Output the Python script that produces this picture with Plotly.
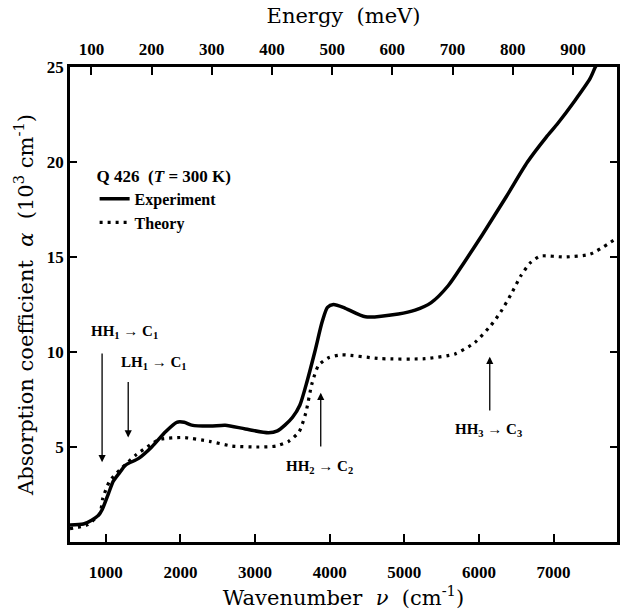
import plotly.graph_objects as go

# ---- data ----
exp_nu = [520, 700, 810, 900, 950, 1040, 1100, 1175, 1265, 1440, 1615, 1800, 1950, 2050,
          2150, 2400, 2600, 2870, 3180, 3300, 3400, 3500, 3600, 3700, 3800, 3900, 3970,
          4050, 4210, 4480, 4920, 5145, 5360, 5590, 5800, 6050, 6370, 6650, 6900, 7050,
          7280, 7490, 7560, 7620]
exp_alpha = [0.9, 0.95, 1.15, 1.4, 1.7, 2.6, 3.2, 3.6, 4.05, 4.4, 5.0, 5.8, 6.3, 6.3,
             6.15, 6.1, 6.15, 5.95, 5.75, 5.85, 6.15, 6.55, 7.2, 8.5, 10.0, 11.6, 12.35,
             12.5, 12.3, 11.85, 12.0, 12.2, 12.6, 13.5, 14.7, 16.2, 18.2, 20.0, 21.3, 22.0,
             23.2, 24.4, 25.0, 25.4]

th_nu = [520, 750, 920, 960, 1050, 1190, 1410, 1590, 1720, 2030, 2390, 2690, 3050, 3280,
         3450, 3590, 3680, 3760, 3850, 3985, 4160, 4690, 5280, 5680, 5945, 6160, 6290,
         6425, 6560, 6690, 6825, 7145, 7490, 7850]
th_alpha = [0.7, 0.9, 1.5, 2.3, 3.2, 3.8, 4.6, 5.1, 5.4, 5.5, 5.3, 5.05, 5.0, 5.05,
            5.3, 5.8, 6.8, 8.3, 9.3, 9.7, 9.85, 9.65, 9.65, 9.9, 10.5, 11.4, 12.1,
            13.0, 14.0, 14.7, 15.05, 15.0, 15.15, 16.0]

x_ticks = [1000, 2000, 3000, 4000, 5000, 6000, 7000]
y_ticks = [5, 10, 15, 20, 25]
energy_ticks = [100, 200, 300, 400, 500, 600, 700, 800, 900]
CM_PER_MEV = 8.0655
x_range = [520, 7850]

# transitions: label, arrow x (cm^-1), arrow tail y, arrow head y, text x, text y
trans_labels = ["HH<sub>1</sub> → C<sub>1</sub>", "LH<sub>1</sub> → C<sub>1</sub>",
                "HH<sub>2</sub> → C<sub>2</sub>", "HH<sub>3</sub> → C<sub>3</sub>"]
trans_x = [950, 1300, 3880, 6145]
trans_tail = [10.0, 8.5, 4.95, 6.84]
trans_head = [4.2, 5.5, 7.85, 9.75]
text_x = [1250, 1640, 3866, 6132]
text_y = [11.05, 9.4, 3.95, 5.9]

SERIF = "Liberation Serif"
TITLE_FONT = "DejaVu Serif"

fig = go.Figure()
fig.add_trace(go.Scatter(x=exp_nu, y=exp_alpha, mode="lines", name="Experiment",
                         line=dict(color="black", width=3.5, shape="spline", smoothing=0.7)))
fig.add_trace(go.Scatter(x=th_nu, y=th_alpha, mode="lines", name="Theory",
                         line=dict(color="black", width=3.2, dash="3px,5px",
                                   shape="spline", smoothing=0.6)))
# invisible trace to carry the top energy axis
fig.add_trace(go.Scatter(x=[energy_ticks[0]], y=[0], xaxis="x2", mode="markers",
                         marker=dict(opacity=0), showlegend=False, hoverinfo="skip"))

annotations = []
for lab, ax_, yt, yh, tx, ty in zip(trans_labels, trans_x, trans_tail, trans_head, text_x, text_y):
    annotations.append(dict(x=ax_, y=yh, ax=ax_, ay=yt, xref="x", yref="y",
                            axref="x", ayref="y", text="", showarrow=True,
                            arrowhead=2, arrowsize=1.1, arrowwidth=1.3, arrowcolor="black"))
    annotations.append(dict(x=tx, y=ty, xref="x", yref="y", text=lab, showarrow=False,
                            font=dict(family=SERIF, size=15, color="black", weight="bold")))

fig.update_layout(
    width=625, height=613,
    margin=dict(l=70, r=5, t=67, b=71),
    paper_bgcolor="white", plot_bgcolor="white",
    font=dict(family=SERIF, color="black"),
    showlegend=True,
    legend=dict(x=0.045, y=0.805, xanchor="left", yanchor="top",
                bgcolor="rgba(0,0,0,0)",
                title=dict(text="Q 426  (<i>T</i> = 300 K)",
                           font=dict(family=SERIF, size=17, weight="bold")),
                font=dict(family=SERIF, size=16, weight="bold"),
                itemwidth=30, tracegroupgap=0),
    xaxis=dict(range=x_range, tickvals=x_ticks, ticks="inside", ticklen=8, tickwidth=2,
               tickcolor="black", showline=True, linewidth=2.5, linecolor="black",
               mirror=True, showgrid=False, zeroline=False,
               tickfont=dict(family=SERIF, size=17, weight="bold"),
               ticklabelstandoff=13,
               title=dict(text="Wavenumber  <i>ν</i>  (cm<sup>-1</sup>)",
                          font=dict(family=TITLE_FONT, size=21), standoff=3)),
    xaxis2=dict(overlaying="x", side="top",
                range=[x_range[0] / CM_PER_MEV, x_range[1] / CM_PER_MEV],
                tickvals=energy_ticks, ticks="inside", ticklen=8, tickwidth=2,
                tickcolor="black", showline=False, showgrid=False, zeroline=False,
                tickfont=dict(family=SERIF, size=17, weight="bold"),
                ticklabelstandoff=8,
                title=dict(text="Energy  (meV)", font=dict(family=TITLE_FONT, size=21),
                           standoff=10)),
    yaxis=dict(range=[0, 25], tickvals=y_ticks, ticks="inside", ticklen=7, tickwidth=2,
               tickcolor="black", showline=True, linewidth=2.5, linecolor="black",
               mirror="ticks", showgrid=False, zeroline=False,
               tickfont=dict(family=SERIF, size=17, weight="bold"),
               title=dict(text="Absorption coefficient  <i>α</i>  (10<sup>3</sup> cm<sup>-1</sup>)",
                          font=dict(family=TITLE_FONT, size=21), standoff=8)),
    annotations=annotations,
)

fig.write_html("out.html")
